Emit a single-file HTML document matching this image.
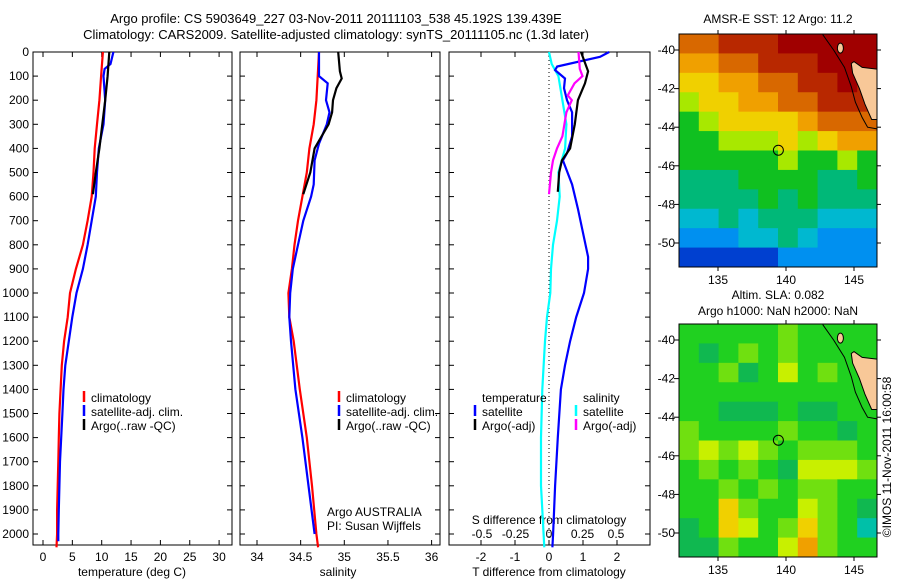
<!DOCTYPE html>
<html><head><meta charset="utf-8"><style>
html,body{margin:0;padding:0;background:#fff;}
svg{display:block;font-family:"Liberation Sans",sans-serif;}
text{font-size:12px;fill:#000;}
</style></head><body>
<svg id="s" width="900" height="580" viewBox="0 0 900 580" xmlns="http://www.w3.org/2000/svg">
<defs>
<clipPath id="clip1"><rect x="679" y="34" width="198" height="233"/></clipPath>
<clipPath id="clip2"><rect x="679" y="324" width="198" height="233"/></clipPath>
</defs>
<text x="336" y="23" text-anchor="middle" style="font-size:13px">Argo profile: CS 5903649_227 03-Nov-2011 20111103_538 45.192S 139.439E</text>
<text x="336" y="39" text-anchor="middle" style="font-size:13px">Climatology: CARS2009. Satellite-adjusted climatology: synTS_20111105.nc (1.3d later)</text>
<text x="778" y="23" text-anchor="middle">AMSR-E SST: 12 Argo: 11.2</text>
<text x="778" y="299" text-anchor="middle">Altim. SLA: 0.082</text>
<text x="778" y="315" text-anchor="middle">Argo h1000: NaN h2000: NaN</text>
<text transform="translate(891,457) rotate(-90)" text-anchor="middle">©IMOS 11-Nov-2011 16:00:58</text>
<g id="plots"></g>
</svg>
<script>
// ---------- data ----------
const tClimDepth=[0,100,200,300,400,500,600,700,800,900,1000,1100,1200,1300,1400,1500,1600,1700,1800,1900,2000,2055];
const tClim=[10.2,9.9,9.6,9.2,8.8,8.6,8.3,7.6,6.8,5.6,4.6,4.2,3.6,3.2,3.0,2.8,2.7,2.6,2.5,2.4,2.4,2.3];
const tSatDepth=[0,50,70,100,200,300,400,500,600,700,800,900,1000,1100,1200,1300,1400,1500,1600,1700,1800,1900,2000,2030];
const tSat=[12,11.5,10.5,10.3,10.6,10.3,9.5,9.2,9.0,8.3,7.6,6.8,5.7,5.0,4.4,3.8,3.5,3.3,3.1,2.9,2.8,2.7,2.6,2.6];
const tArgoDepth=[0,100,150,200,300,400,500,590];
const tArgo=[11.3,11.0,10.8,10.6,10.1,9.6,9.0,8.5];
const sClimDepth=[0,200,300,400,500,600,700,800,900,1000,1100,1200,1400,1600,1800,2000,2055];
const sClim=[34.71,34.68,34.65,34.6,34.57,34.52,34.47,34.43,34.4,34.36,34.37,34.42,34.49,34.57,34.63,34.68,34.7];
const sSatDepth=[0,100,130,200,250,300,380,450,550,600,700,800,900,1000,1100,1200,1400,1600,1800,2000];
const sSat=[34.71,34.71,34.81,34.79,34.83,34.8,34.71,34.66,34.65,34.62,34.53,34.47,34.41,34.38,34.37,34.39,34.44,34.52,34.59,34.66];
const sArgoDepth=[0,80,110,150,200,250,300,350,400,500,590];
const sArgo=[34.93,34.95,34.97,34.91,34.87,34.86,34.82,34.74,34.66,34.61,34.53];
const dTSatDepth=[0,20,60,75,110,150,200,250,350,420,450,550,650,750,850,900,1000,1100,1200,1300,1400,1600,1800,2000,2055];
const dTSat=[1.77,1.5,0.24,0.18,0.47,0.44,0.53,0.68,0.68,0.53,0.41,0.68,0.85,1.0,1.15,1.15,1.03,0.8,0.62,0.47,0.35,0.26,0.18,0.12,0.1];
const dTArgoDepth=[0,80,130,200,300,400,450,500,580];
const dTArgo=[0.94,1.15,1.06,0.85,0.76,0.62,0.38,0.3,0.26];
const dSSatDepth=[0,50,100,200,300,400,500,600,700,800,900,1000,1100,1200,1400,1600,1800,2000,2055];
const dSSat=[0,0.02,0.07,0.1,0.13,0.12,0.07,0.08,0.06,0.03,0.015,0.01,-0.015,-0.03,-0.05,-0.06,-0.06,-0.04,-0.035];
const dSArgoDepth=[0,70,100,130,180,200,250,350,400,450,500,590];
const dSArgo=[0.22,0.23,0.25,0.19,0.14,0.17,0.13,0.1,0.06,0.03,0.015,0];
const depthTicks=[0,100,200,300,400,500,600,700,800,900,1000,1100,1200,1300,1400,1500,1600,1700,1800,1900,2000];
const tTicks=[0,5,10,15,20,25,30];
const sTicks=[34,34.5,35,35.5,36];
const sTickLabels=["34","34.5","35","35.5","36"];
const dTTicks=[-2,-1,0,1,2];
const dSTicks=[-0.5,-0.25,0,0.25,0.5];
const dSTickLabels=["-0.5","-0.25","0","0.25","0.5"];
const latTicks=[-40,-42,-44,-46,-48,-50];
const lonTicks=[135,140,145];
const sstGrid=[
[9,9,10,10,10,11,11,11,11,11],
[8,8,9,9,10,10,10,11,11,11],
[7,7,8,8,9,9,10,10,11,10],
[6,7,7,8,8,9,9,10,10,10],
[5,6,7,7,7,7,8,9,9,9],
[5,5,6,6,6,7,6,7,8,8],
[5,5,5,5,5,6,5,5,6,5],
[4,4,4,5,5,5,5,4,4,5],
[4,4,4,4,5,4,5,4,4,4],
[3,3,4,3,4,4,4,3,3,3],
[2,2,2,3,3,4,3,2,2,2],
[1,1,1,1,1,2,2,2,2,2]];
const slaGrid=[
[2,2,2,2,2,3,2,2,2,2],
[2,1,2,3,2,3,2,2,2,2],
[2,2,3,1,2,4,2,3,2,2],
[2,2,2,2,2,2,2,2,2,2],
[2,2,1,1,1,2,1,1,2,2],
[3,2,2,2,2,3,2,2,1,2],
[3,4,3,4,3,2,3,3,3,2],
[2,3,2,3,2,1,4,4,4,3],
[2,2,3,2,3,2,3,3,2,2],
[2,2,5,3,2,2,4,3,2,1],
[1,2,5,4,2,3,5,3,2,0],
[1,1,3,2,2,4,6,3,2,2]];
const argoLon=139.439, argoLat=-45.192;

// ---------- helpers ----------
const NS="http://www.w3.org/2000/svg";
const root=document.getElementById('plots');
function mk(tag,attrs,parent){const e=document.createElementNS(NS,tag);for(const k in attrs)e.setAttribute(k,attrs[k]);(parent||root).appendChild(e);return e;}
function txt(x,y,s,anchor,parent){const e=mk('text',{x:x,y:y,'text-anchor':anchor||'start'},parent);e.textContent=s;return e;}
const Y0=52,YB=545;
const yD=d=>Y0+d*0.241;
const xT=v=>43+v*5.87;
const xS=v=>257+(v-34)*87.3;
const xDT=v=>549+v*34;
const xDS=v=>549+v*134;

function frame(l,r,name){
  const g=mk('g',{});
  
  
  mk('rect',{x:l,y:Y0,width:r-l,height:YB-Y0,fill:'#fff',stroke:'#000','stroke-width':1},g);
  depthTicks.forEach(d=>{const y=yD(d);mk('line',{x1:l,x2:l+5,y1:y,y2:y,stroke:'#000'},g);mk('line',{x1:r-5,x2:r,y1:y,y2:y,stroke:'#000'},g);});
  return g;
}
function xticks(g,ticks,labels,fx,ly){
  ticks.forEach((t,i)=>{const x=fx(t);mk('line',{x1:x,x2:x,y1:YB,y2:YB-5,stroke:'#000'},g);mk('line',{x1:x,x2:x,y1:Y0,y2:Y0+5,stroke:'#000'},g);
    const e=txt(x,ly,labels[i],'middle',g);});
}
function series(xs,ds,fx,color,name,g){
  const p=xs.map((v,i)=>fx(v).toFixed(1)+','+yD(ds[i]).toFixed(1)).join(' ');
  const e=mk('polyline',{points:p,fill:'none',stroke:color,'stroke-width':2.2},g);
  
  
}
function legend(g,x,y,items){
  items.forEach((it,i)=>{const yy=y+i*14;mk('line',{x1:x,x2:x,y1:yy-11,y2:yy,stroke:it[1],'stroke-width':2.5},g);
    const e=txt(x+7,yy,it[0],'start',g);});
}

// panel 1
const g1=frame(33,232,'temperature-panel');
depthTicks.forEach(d=>{const e=txt(29,yD(d)+4,String(d),'end',g1);});
xticks(g1,tTicks,tTicks.map(String),xT,561);
txt(132,576,'temperature (deg C)','middle',g1);
series(tClim,tClimDepth,xT,'#ff0000','temp-climatology-line',g1);
series(tSat,tSatDepth,xT,'#0000ff','temp-satellite-line',g1);
series(tArgo,tArgoDepth,xT,'#000000','temp-argo-line',g1);
legend(g1,84,402,[['climatology','#ff0000'],['satellite-adj. clim.','#0000ff'],['Argo(..raw -QC)','#000']]);

// panel 2
const g2=frame(240,440,'salinity-panel');
xticks(g2,sTicks,sTickLabels,xS,561);
txt(338,576,'salinity','middle',g2);
series(sClim,sClimDepth,xS,'#ff0000','sal-climatology-line',g2);
series(sSat,sSatDepth,xS,'#0000ff','sal-satellite-line',g2);
series(sArgo,sArgoDepth,xS,'#000000','sal-argo-line',g2);
legend(g2,339,402,[['climatology','#ff0000'],['satellite-adj. clim.','#0000ff'],['Argo(..raw -QC)','#000']]);
txt(327,516,'Argo AUSTRALIA','start',g2);
txt(327,530,'PI: Susan Wijffels','start',g2);

// panel 3
const g3=frame(449,650,'difference-panel');
xticks(g3,dTTicks,dTTicks.map(String),xDT,561);
dSTicks.forEach((t,i)=>{const e=txt(xDS(t),538,dSTickLabels[i],'middle',g3);});
txt(549,524,'S difference from climatology','middle',g3);
txt(549,576,'T difference from climatology','middle',g3);
mk('line',{x1:xDT(0),x2:xDT(0),y1:Y0,y2:YB,stroke:'#000','stroke-dasharray':'1,3'},g3);
series(dSSat,dSSatDepth,xDS,'#00ffff','sdiff-satellite-line',g3);
series(dTSat,dTSatDepth,xDT,'#0000ff','tdiff-satellite-line',g3);
series(dTArgo,dTArgoDepth,xDT,'#000000','tdiff-argo-line',g3);
series(dSArgo,dSArgoDepth,xDS,'#ff00ff','sdiff-argo-line',g3);
txt(482,402,'temperature','start',g3);
legend(g3,475,416,[['satellite','#0000ff'],['Argo(-adj)','#000']]);
txt(583,402,'salinity','start',g3);
legend(g3,576,416,[['satellite','#00ffff'],['Argo(-adj)','#ff00ff']]);

// maps
const sstPal=['#001090','#0040d0','#0090f0','#00b8d0','#00b878','#10c020','#a8e800','#f0d000','#f0a000','#d86800','#b82800','#a00000'];
const slaPal=['#00c0a8','#10b850','#20d020','#70e010','#c8f000','#f0d000','#f0a000'];
function map(top,grid,pal,name,clip){
  const L=679,R=877,B=top+233;
  const g=mk('g',{});
  
  
  const inner=mk('g',{'clip-path':'url(#'+clip+')'},g);
  const mx=lon=>718+(lon-135)*13.6;
  const my=lat=>top+16+(-40-lat)*19.3;
  const cw=(R-L)/grid[0].length, ch=(B-top)/grid.length;
  grid.forEach((row,r)=>row.forEach((v,c)=>{
    const e=mk('rect',{x:L+c*cw,y:top+r*ch,width:cw+0.5,height:ch+0.5,fill:pal[v]},inner);
    
    
  }));
  const land=[[144.8,-40.7],[145.0,-40.6],[145.6,-40.9],[146.8,-41.0],[146.8,-43.6],[146.3,-43.6],[145.8,-42.8],[145.4,-42.0],[144.9,-41.2]];
  mk('polygon',{points:land.map(p=>mx(p[0])+','+my(p[1])).join(' '),fill:'#f8c898',stroke:'#000','stroke-width':1},inner);
  mk('ellipse',{cx:mx(144.0),cy:my(-39.9),rx:3,ry:5,fill:'#f8c898',stroke:'#000'},inner);
  const coast=[[142.7,-39.2],[143.5,-40.0],[144.3,-40.9],[144.8,-41.9],[145.1,-42.7],[145.6,-43.5],[146.0,-44.0],[146.8,-44.1]];
  mk('polyline',{points:coast.map(p=>mx(p[0])+','+my(p[1])).join(' '),fill:'none',stroke:'#000','stroke-width':1},inner);
  mk('circle',{cx:mx(argoLon),cy:my(argoLat),r:5,fill:'none',stroke:'#000','stroke-width':1},inner);
  mk('rect',{x:L,y:top,width:R-L,height:B-top,fill:'none',stroke:'#000'},g);
  latTicks.forEach(t=>{const y=my(t);mk('line',{x1:L,x2:L-5,y1:y,y2:y,stroke:'#000'},g);mk('line',{x1:R,x2:R+4,y1:y,y2:y,stroke:'#000'},g);
    const e=txt(L-4,y+4,String(t),'end',g);});
  lonTicks.forEach(t=>{const x=mx(t);mk('line',{x1:x,x2:x,y1:B,y2:B+4,stroke:'#000'},g);mk('line',{x1:x,x2:x,y1:top,y2:top-4,stroke:'#000'},g);
    const e=txt(x,B+17,String(t),'middle',g);});
}
map(34,sstGrid,sstPal,'sst-map','clip1');
map(324,slaGrid,slaPal,'sla-map','clip2');
</script>
</body></html>
